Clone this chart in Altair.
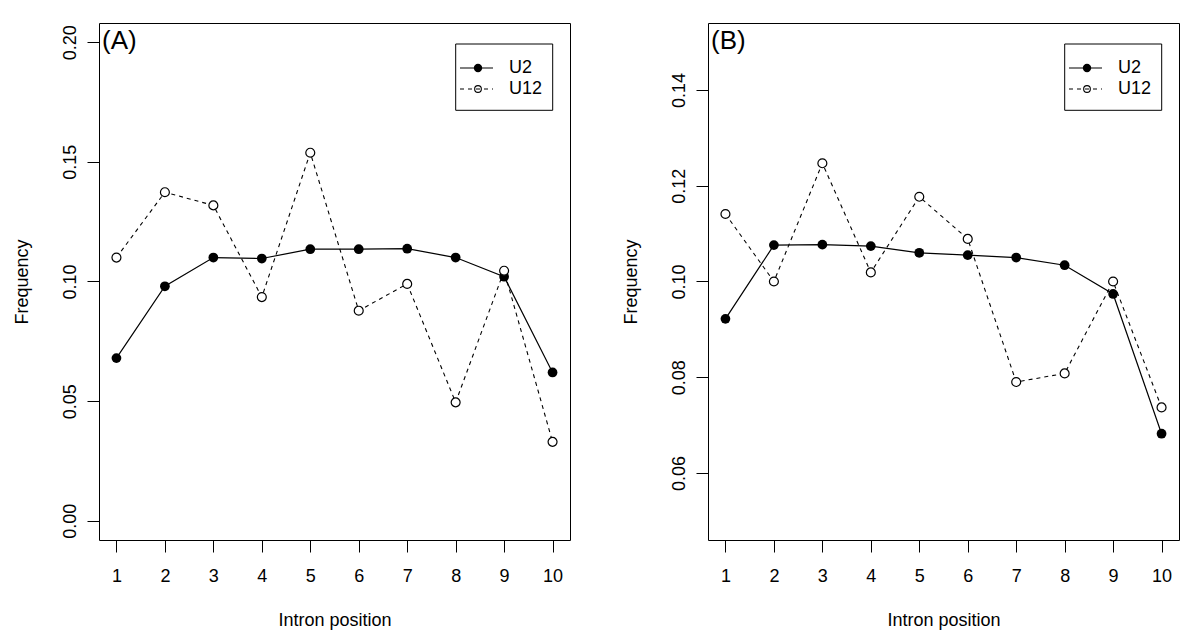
import altair as alt
import pandas as pd

# ---- data ----
positions = [1, 2, 3, 4, 5, 6, 7, 8, 9, 10]
a_u2 = [0.068, 0.098, 0.110, 0.1096, 0.1135, 0.1135, 0.1137, 0.110, 0.102, 0.062]
a_u12 = [0.110, 0.1373, 0.1318, 0.0935, 0.1538, 0.0878, 0.099, 0.0495, 0.1045, 0.033]
b_u2 = [0.0922, 0.1076, 0.1077, 0.1074, 0.1060, 0.1055, 0.1050, 0.1034, 0.0974, 0.0682]
b_u12 = [0.1141, 0.1000, 0.1247, 0.1019, 0.1177, 0.1089, 0.0790, 0.0808, 0.1000, 0.0737]
series_names = ["U2", "U12"]
a_yticks = [0.00, 0.05, 0.10, 0.15, 0.20]
b_yticks = [0.06, 0.08, 0.10, 0.12, 0.14]
a_ydomain = [-0.008, 0.208]
b_ydomain = [0.046, 0.154]
xdomain = [0.64, 10.36]

FONT = "Liberation Sans"
FS = 18
W, H = 471, 517


def one():
    return alt.Data(values=[{"k": 1}])


def panel(u2, u12, label, ydomain, yticks):
    df = pd.DataFrame({
        "pos": positions * 2,
        "freq": u2 + u12,
        "series": [series_names[0]] * len(u2) + [series_names[1]] * len(u12),
    })
    base = alt.Chart(df)
    x = alt.X("pos:Q",
              scale=alt.Scale(domain=xdomain, nice=False, zero=False),
              axis=alt.Axis(values=positions, format="d", title="Intron position",
                            labelPadding=15, titlePadding=26))
    y = alt.Y("freq:Q",
              scale=alt.Scale(domain=ydomain, nice=False, zero=False),
              axis=alt.Axis(values=yticks, format=".2f", title="Frequency",
                            labelAngle=270, labelAlign="center",
                            labelBaseline="alphabetic", labelPadding=12,
                            titlePadding=30))
    u2_line = base.transform_filter(alt.datum.series == "U2").mark_line(
        color="black", strokeWidth=1.2).encode(x=x, y=y)
    u2_pts = base.transform_filter(alt.datum.series == "U2").mark_point(
        filled=True, color="black", size=95, shape="circle", opacity=1).encode(x=x, y=y)
    u12_line = base.transform_filter(alt.datum.series == "U12").mark_line(
        color="black", strokeWidth=1.1, strokeDash=[4, 4]).encode(x=x, y=y)
    u12_pts = base.transform_filter(alt.datum.series == "U12").mark_point(
        filled=False, fill="white", fillOpacity=1, color="black", stroke="black",
        strokeWidth=1.2, size=80, shape="circle", opacity=1).encode(x=x, y=y)

    # legend (drawn as decoration in pixel space)
    lx0, lx1, ly0, ly1 = 356.7, 453.7, 21, 87.3
    r1, r2 = 45, 66
    leg_box = alt.Chart(one()).mark_rect(fill="white", stroke="black", strokeWidth=1).encode(
        x=alt.value(lx0), x2=alt.value(lx1), y=alt.value(ly0), y2=alt.value(ly1))
    leg_l1 = alt.Chart(one()).mark_rule(color="black", strokeWidth=1.2).encode(
        x=alt.value(361), x2=alt.value(394), y=alt.value(r1))
    leg_p1 = alt.Chart(one()).mark_point(filled=True, color="black", size=70,
                                         shape="circle", opacity=1).encode(
        x=alt.value(379), y=alt.value(r1))
    leg_l2 = alt.Chart(one()).mark_rule(color="black", strokeWidth=1.1, strokeDash=[4, 4]).encode(
        x=alt.value(361), x2=alt.value(394), y=alt.value(r2))
    leg_p2 = alt.Chart(one()).mark_point(filled=False, color="black", size=45,
                                         strokeWidth=1.1, shape="circle", opacity=1).encode(
        x=alt.value(379), y=alt.value(r2))
    leg_t1 = alt.Chart(one()).mark_text(text=series_names[0], align="left", baseline="middle",
                                        fontSize=FS, font=FONT, color="black").encode(
        x=alt.value(410), y=alt.value(r1))
    leg_t2 = alt.Chart(one()).mark_text(text=series_names[1], align="left", baseline="middle",
                                        fontSize=FS, font=FONT, color="black").encode(
        x=alt.value(410), y=alt.value(r2))
    tag = alt.Chart(one()).mark_text(text=label, align="left", baseline="alphabetic",
                                     fontSize=26, font=FONT, color="black").encode(
        x=alt.value(3), y=alt.value(26))

    return alt.layer(u2_line, u12_line, u2_pts, u12_pts,
                     leg_box, leg_l1, leg_p1, leg_l2, leg_p2, leg_t1, leg_t2, tag
                     ).properties(width=W, height=H)


pa = panel(a_u2, a_u12, "(A)", a_ydomain, a_yticks)
pb = panel(b_u2, b_u12, "(B)", b_ydomain, b_yticks)

chart = alt.hconcat(pa, pb, spacing=50).properties(
    padding={"left": 4, "top": 14, "right": 5, "bottom": 0},
    background="white",
).configure_view(
    stroke="black", strokeWidth=1
).configure_axis(
    grid=False, domain=False, tickColor="black", tickSize=12, tickWidth=1,
    labelColor="black", titleColor="black", labelFont=FONT, titleFont=FONT,
    labelFontSize=FS, titleFontSize=FS, titleFontWeight="normal",
)

chart.save("out.html", embed_options={"renderer": "svg", "actions": False})
